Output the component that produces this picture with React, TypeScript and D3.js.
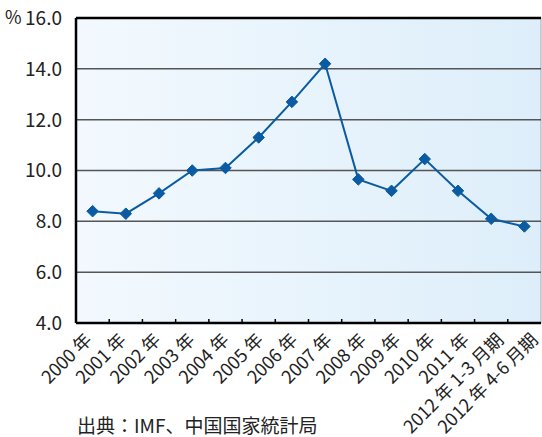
import React from "react";
import * as d3 from "d3";

const categories = [
  "2000年", "2001年", "2002年", "2003年", "2004年", "2005年", "2006年",
  "2007年", "2008年", "2009年", "2010年", "2011年", "2012年1-3月期", "2012年4-6月期",
];
const growth = [8.4, 8.3, 9.1, 10.0, 10.1, 11.3, 12.7, 14.2, 9.65, 9.2, 10.45, 9.2, 8.1, 7.8];
const yTicks = [4, 6, 8, 10, 12, 14, 16];
const unitLabel = "%";
const sourceText = "出典：IMF、中国国家統計局";

const W = 542, H = 437;
const M = { left: 76, right: 541, top: 18, bottom: 323 };
const FONT = "'Noto Sans CJK JP', 'Noto Sans', sans-serif";

function splitLabel(s: string): string[] {
  return s.match(/[0-9\-]+|[^0-9\-]+/g) || [s];
}

export default function App() {
  const x = d3.scaleBand<string>().domain(categories).range([M.left, M.right]);
  const y = d3.scaleLinear().domain([4, 16]).range([M.bottom, M.top]);
  const labelX = d3.scaleLinear().domain([0, categories.length - 1]).range([93, 539]);
  const cx = (c: string) => (x(c) as number) + x.bandwidth() / 2;
  const line = d3.line<number>()
    .x((_, i) => cx(categories[i]))
    .y((d) => y(d));
  const diamond = d3.symbol().type(d3.symbolDiamond2).size(85)();

  return (
    <svg width={W} height={H} style={{ position: "absolute", left: 0, top: 0 }} fontFamily={FONT}>
      <defs>
        <linearGradient id="bg" x1="0" x2="1" y1="0" y2="0">
          <stop offset="0" stopColor="#f3f9fe" />
          <stop offset="1" stopColor="#ddeefa" />
        </linearGradient>
      </defs>
      <rect x={M.left} y={M.top} width={M.right - M.left} height={M.bottom - M.top} fill="url(#bg)" stroke="#9ab" strokeWidth={1} />
      {yTicks.slice(1, -1).map((t) => (
        <line key={t} x1={M.left} x2={M.right} y1={y(t)} y2={y(t)} stroke="#555" strokeWidth={1.5} />
      ))}
      <line x1={M.left} x2={M.right} y1={M.top} y2={M.top} stroke="#000" strokeWidth={2.5} />
      <line x1={M.left} x2={M.left} y1={M.top} y2={M.bottom} stroke="#000" strokeWidth={2.5} />
      <line x1={M.left} x2={M.right} y1={M.bottom} y2={M.bottom} stroke="#000" strokeWidth={2.5} />
      {categories.slice(1).map((c) => (
        <line key={c} x1={x(c)} x2={x(c)} y1={M.bottom} y2={M.bottom - 4} stroke="#000" strokeWidth={1.5} />
      ))}
      {yTicks.map((t) => (
        <text key={t} x={62} y={y(t)} dy="0.36em" textAnchor="end" fontSize={19} fill="#222">
          {t.toFixed(1)}
        </text>
      ))}
      <text x={5} y={y(16)} dy="0.36em" fontSize={18} fill="#222">{unitLabel}</text>
      {categories.map((c, i) => (
        <text
          key={c}
          transform={`translate(${labelX(i)},341) rotate(-45)`}
          textAnchor="end"
          fontSize={18}
          fill="#222"
        >
          {splitLabel(c).map((p, j) => (
            <tspan key={j} dx={j === 0 ? 0 : 4}>{p}</tspan>
          ))}
        </text>
      ))}
      <path d={line(growth) as string} fill="none" stroke="#0b5ba3" strokeWidth={2} />
      {growth.map((v, i) => (
        <path key={i} d={diamond as string} transform={`translate(${cx(categories[i])},${y(v)})`} fill="#0b5ba3" stroke="#0b5ba3" strokeWidth={1} strokeLinejoin="round" />
      ))}
      <text x={77} y={433} fontSize={19} fill="#222">{sourceText}</text>
    </svg>
  );
}
